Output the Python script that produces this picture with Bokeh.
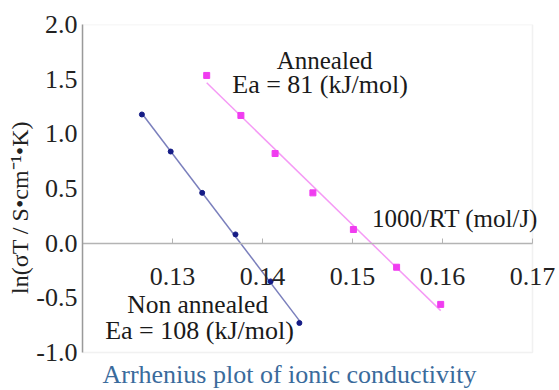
import numpy as np
from bokeh.plotting import figure
from bokeh.models import Range1d, FixedTicker, Label, NumeralTickFormatter, BoxAnnotation
from bokeh.embed import file_html
from bokeh.resources import INLINE

# Non annealed series
non_x = [0.1266, 0.1298, 0.1333, 0.1370, 0.1409, 0.1441]
non_y = [1.177, 0.838, 0.46, 0.08, -0.35, -0.73]

# Annealed series
ann_x = [0.1338, 0.1376, 0.1414, 0.1456, 0.1501, 0.1549, 0.1598]
ann_y = [1.534, 1.168, 0.82, 0.46, 0.125, -0.22, -0.56]

x_ticks = [0.13, 0.14, 0.15, 0.16, 0.17]
y_ticks = [-1.0, -0.5, 0.0, 0.5, 1.0, 1.5, 2.0]

X_MIN, X_MAX = 0.12, 0.17
Y_MIN, Y_MAX = -1.0, 2.0

SERIF = "'Liberation Serif'"

W, H = 559, 390
LEFT, TOP = 82, 24
BOX_W, BOX_H = 450, 328  # pixel size of the drawn plot box
# extend the frame to the canvas edges so texts outside the box are not clipped
x_hi = X_MIN + (X_MAX - X_MIN) * (W - LEFT) / BOX_W
y_lo = Y_MAX - (Y_MAX - Y_MIN) * (H - TOP) / BOX_H

p = figure(width=W, height=H, output_backend="svg", toolbar_location=None,
           x_range=Range1d(X_MIN, x_hi), y_range=Range1d(y_lo, Y_MAX),
           min_border_left=LEFT, min_border_right=0, min_border_top=TOP, min_border_bottom=0)
p.grid.visible = False
p.outline_line_color = None
p.background_fill_color = "white"
p.border_fill_color = "white"

p.add_layout(BoxAnnotation(left=X_MIN, right=X_MAX, bottom=Y_MIN, top=Y_MAX,
                           fill_color=None, line_color="#cfcfcf", line_width=1.5,
                           level="underlay"))

# x axis at y = 0
xa = p.xaxis[0]
xa.fixed_location = 0
xa.bounds = (X_MIN, X_MAX)
xa.ticker = FixedTicker(ticks=x_ticks)
xa.formatter = NumeralTickFormatter(format="0.00")
xa.axis_line_color = "#b4b4b4"
xa.axis_line_width = 1.5
xa.major_tick_in = 5
xa.major_tick_out = 0
xa.major_tick_line_color = "#b4b4b4"
xa.minor_tick_line_color = None
xa.major_label_standoff = 25
xa.major_label_text_font = SERIF
xa.major_label_text_font_size = "26px"
xa.major_label_text_color = "#222222"

ya = p.yaxis[0]
ya.bounds = (Y_MIN, Y_MAX)
ya.ticker = FixedTicker(ticks=y_ticks)
ya.formatter = NumeralTickFormatter(format="0.0")
ya.axis_line_color = "#9a9a9a"
ya.axis_line_width = 1.5
ya.major_tick_in = 0
ya.major_tick_out = 0
ya.minor_tick_line_color = None
ya.major_label_standoff = 5
ya.major_label_text_font = SERIF
ya.major_label_text_font_size = "26px"
ya.major_label_text_color = "#222222"
ya.axis_label = "ln(σT / S•cm⁻¹•K)"
ya.axis_label_text_font = SERIF
ya.axis_label_text_font_size = "24px"
ya.axis_label_text_font_style = "normal"
ya.axis_label_text_color = "#222222"
ya.axis_label_standoff = 0

# fit lines
for xs, ys, col in [(non_x, non_y, "#7a7fbc"), (ann_x, ann_y, "#f59af5")]:
    k, b = np.polyfit(xs, ys, 1)
    lx = np.array([min(xs), max(xs)])
    p.line(lx, k * lx + b, line_color=col, line_width=1.5)

p.scatter(non_x, non_y, marker="circle", size=5, color="#151c86")
p.scatter(ann_x, ann_y, marker="square", size=6, color="#f03cf0")

def lab(x, y, t, align="center", color="#1a1a1a", size="25px"):
    p.add_layout(Label(x=x, y=y, text=t, text_align=align, text_baseline="alphabetic",
                       text_font=SERIF, text_font_size=size, text_color=color))

lab(0.1469, 1.675, "Annealed", size="25px")
lab(0.1464, 1.455, "Ea = 81 (kJ/mol)", size="26px")
lab(0.1328, -0.56, "Non annealed", size="25.5px")
lab(0.1330, -0.80, "Ea = 108 (kJ/mol)", size="26px")
lab(0.1706, 0.225, "1000/RT (mol/J)", align="right", size="25px")
lab(0.1430, -1.205, "Arrhenius plot of ionic conductivity", color="#3a6b9c", size="26px")

open("out.html", "w").write(file_html(p, INLINE))
